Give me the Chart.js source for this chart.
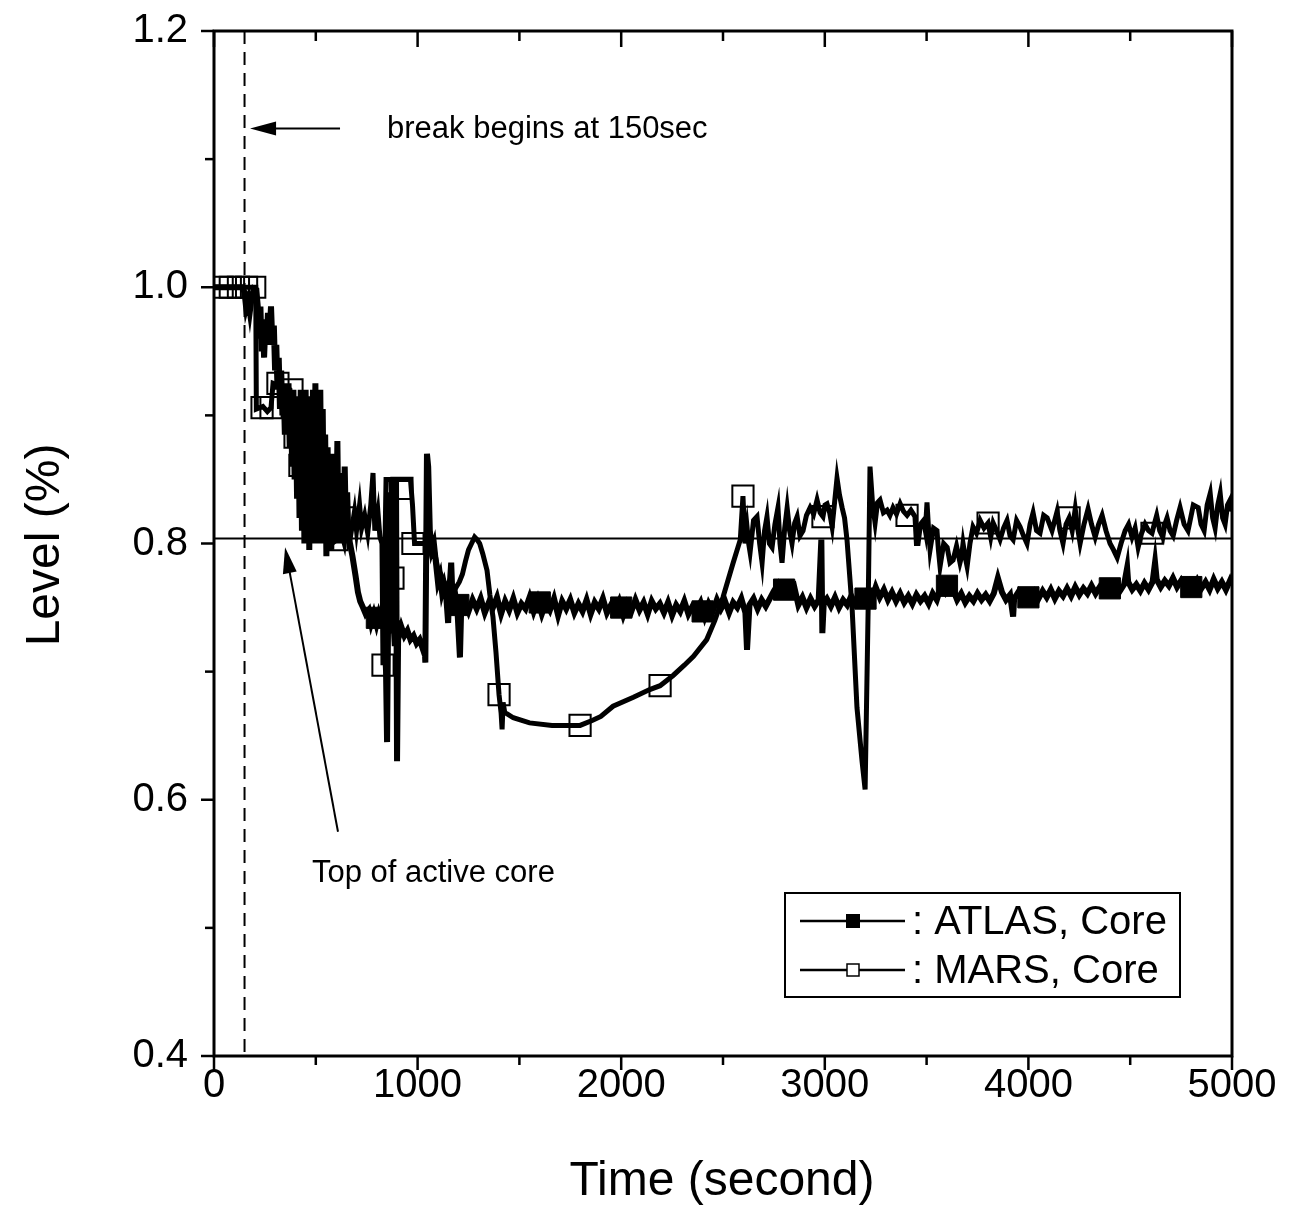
<!DOCTYPE html>
<html>
<head>
<meta charset="utf-8">
<script src="https://cdn.jsdelivr.net/npm/chart.js@4.4.1/dist/chart.umd.min.js"></script>
<style>
  html, body { margin: 0; padding: 0; background: #fff; }
  #wrap { width: 1306px; height: 1209px; }
</style>
</head>
<body>
<div id="wrap"><canvas id="c"></canvas></div>
<script>
// --- data (time in s, level fraction) ---
const xTicks = [0, 1000, 2000, 3000, 4000, 5000];
const yTicks = [0.4, 0.6, 0.8, 1.0, 1.2];

const atlasTime = [
  0, 140, 150, 158, 168, 176, 186, 196, 208, 215,
  222, 228, 234, 240, 246, 252, 258, 265, 272, 280, 287, 294, 300, 306, 312, 318, 324, 330, 336, 342,
  348, 354, 360, 366, 372, 378, 384, 390, 396, 402, 408, 414, 420, 426, 432, 438, 444, 450, 456, 462,
  468, 474, 480, 486, 492, 498, 504, 510, 516, 522, 528, 534, 540, 546, 552, 558, 564, 570, 576, 582,
  588, 594, 600, 606, 612, 618, 624, 630, 636, 642, 648, 654, 660, 668, 680, 695, 707, 718, 732, 745,
  760, 772, 785, 798, 810, 820, 835, 845, 850, 855, 860, 866, 872, 880, 888, 894, 899, 905, 912, 920,
  935, 950, 965, 980, 995, 1010, 1025, 1034, 1038, 1046, 1052, 1060, 1070, 1080, 1090, 1100, 1110, 1120, 1130, 1140,
  1150, 1155, 1165, 1172, 1185, 1195, 1208, 1215,
  1230, 1250, 1270, 1290, 1310, 1330, 1350, 1370, 1390, 1410,
  1430, 1450, 1470, 1490, 1510, 1530, 1550, 1570, 1590, 1610,
  1630, 1650, 1670, 1690, 1710, 1730, 1750, 1770, 1790, 1810,
  1830, 1850, 1870, 1890, 1910, 1930, 1950, 1970, 1990, 2010,
  2030, 2050, 2070, 2090, 2110, 2130, 2150, 2170, 2190, 2210,
  2230, 2250, 2270, 2290, 2310, 2330, 2350, 2370, 2390, 2410,
  2430, 2450, 2470, 2490, 2510, 2530, 2550, 2570, 2590, 2610, 2618,
  2630, 2650, 2670, 2690, 2710, 2730, 2750, 2770, 2790, 2810,
  2830, 2850, 2870, 2890, 2910, 2930, 2950, 2970, 2983, 2988, 2995, 3010,
  3030, 3050, 3070, 3090, 3110, 3130, 3150, 3170, 3190, 3210,
  3230, 3250, 3270, 3290, 3310, 3330, 3350, 3370, 3390, 3410,
  3430, 3450, 3470, 3490, 3510, 3530, 3550, 3570, 3590, 3610,
  3630, 3650, 3670, 3690, 3710, 3730, 3750, 3770, 3790, 3810,
  3830, 3850, 3870, 3890, 3910, 3925, 3930, 3950, 3970, 3990, 4010,
  4030, 4050, 4070, 4090, 4110, 4130, 4150, 4170, 4190, 4210,
  4230, 4250, 4270, 4290, 4310, 4330, 4350, 4370, 4390, 4410,
  4430, 4450, 4470, 4485, 4490, 4510, 4530, 4550, 4570, 4590, 4610, 4622,
  4630, 4650, 4670, 4690, 4710, 4730, 4750, 4770, 4790, 4810,
  4830, 4850, 4870, 4890, 4910, 4930, 4950, 4970, 4990, 5000
];
const atlasLevel = [
  1.0, 1.0, 0.996, 0.984, 0.99, 0.981, 0.993, 0.999, 0.998, 0.985,
  0.96, 0.985, 0.95, 0.975, 0.945, 0.97, 0.955, 0.98, 0.96, 0.985, 0.955, 0.97, 0.935, 0.955, 0.92, 0.945, 0.905, 0.935, 0.90, 0.925,
  0.885, 0.915, 0.90, 0.925, 0.875, 0.91, 0.86, 0.92, 0.85, 0.905, 0.835, 0.915, 0.82, 0.92, 0.81, 0.905, 0.80, 0.92, 0.80, 0.915,
  0.795, 0.905, 0.80, 0.92, 0.805, 0.925, 0.80, 0.91, 0.80, 0.92, 0.81, 0.905, 0.80, 0.885, 0.79, 0.875, 0.80, 0.865, 0.795, 0.87,
  0.80, 0.86, 0.805, 0.88, 0.80, 0.855, 0.81, 0.85, 0.80, 0.86, 0.81, 0.84, 0.805, 0.80, 0.79, 0.775, 0.762, 0.755, 0.75, 0.745,
  0.748, 0.738, 0.745, 0.737, 0.745, 0.74, 0.74, 0.70, 0.645, 0.74, 0.84, 0.76, 0.73, 0.745, 0.72, 0.85, 0.63, 0.74, 0.73, 0.735,
  0.728, 0.732, 0.725, 0.728, 0.722, 0.725, 0.718, 0.722, 0.707, 0.87, 0.86, 0.81, 0.795, 0.80, 0.785, 0.77, 0.775, 0.762, 0.768, 0.76,
  0.738, 0.76, 0.785, 0.755, 0.76, 0.75, 0.711, 0.755,
  0.755, 0.747, 0.756, 0.749, 0.757, 0.746, 0.754, 0.75, 0.758, 0.745,
  0.755, 0.748, 0.757, 0.746, 0.753, 0.749, 0.758, 0.747, 0.756, 0.745,
  0.754, 0.748, 0.757, 0.744, 0.755, 0.749, 0.756, 0.746, 0.753, 0.747,
  0.756, 0.745, 0.754, 0.749, 0.757, 0.746, 0.752, 0.748, 0.755, 0.744,
  0.753, 0.747, 0.756, 0.748, 0.754, 0.745, 0.755, 0.749, 0.753, 0.746,
  0.754, 0.744, 0.752, 0.747, 0.755, 0.745, 0.751, 0.748, 0.754, 0.743,
  0.753, 0.747, 0.756, 0.749, 0.755, 0.746, 0.754, 0.75, 0.757, 0.746, 0.717,
  0.752, 0.757, 0.749, 0.756, 0.751, 0.757, 0.763, 0.768, 0.761, 0.767,
  0.762, 0.766, 0.752, 0.758, 0.75, 0.757, 0.751, 0.756, 0.803, 0.73, 0.754, 0.757,
  0.751, 0.758, 0.75, 0.756, 0.752, 0.759, 0.753, 0.757, 0.754, 0.76,
  0.756, 0.766, 0.758, 0.764, 0.756, 0.762, 0.755, 0.761, 0.754, 0.759,
  0.753, 0.76, 0.755, 0.759, 0.753, 0.761, 0.756, 0.766, 0.762, 0.769,
  0.764, 0.756, 0.761, 0.754, 0.759, 0.755, 0.761, 0.756, 0.76, 0.755,
  0.761, 0.773, 0.762, 0.756, 0.76, 0.743, 0.757, 0.762, 0.755, 0.761, 0.756,
  0.762, 0.757, 0.763, 0.758, 0.764, 0.757, 0.763, 0.759, 0.765, 0.759,
  0.766, 0.76, 0.765, 0.761, 0.767, 0.761, 0.766, 0.762, 0.768, 0.762,
  0.767, 0.763, 0.768, 0.781, 0.77, 0.764, 0.768, 0.763, 0.769, 0.764, 0.77, 0.785,
  0.772, 0.766, 0.771, 0.767, 0.773, 0.766, 0.771, 0.765, 0.77, 0.764,
  0.771, 0.765, 0.77, 0.764, 0.772, 0.765, 0.77, 0.764, 0.771, 0.767
];

const marsTime = [
  0, 205, 208, 240, 262, 280, 290, 340, 373, 385, 398, 410, 422, 450, 480, 511, 525, 540, 560, 580,
  604, 620, 640, 655, 670, 690, 700, 715, 725, 740, 755, 770, 781, 790, 805, 815, 825, 830, 845, 870,
  879, 890, 923, 965, 975, 985, 1040, 1055, 1070, 1085, 1100, 1115, 1130, 1145, 1160, 1175, 1190, 1205, 1220, 1235,
  1250, 1265, 1280, 1292, 1305, 1320, 1341, 1355, 1370, 1385, 1400, 1410, 1415, 1420, 1428, 1440, 1470, 1550, 1660, 1798,
  1860, 1900, 1960, 2060, 2140, 2191, 2255, 2310, 2355, 2420, 2460, 2500, 2550, 2585,
  2598, 2608, 2618, 2626, 2633, 2650, 2667, 2680, 2692, 2704, 2716, 2728, 2741, 2755, 2770, 2780, 2790, 2803, 2815, 2827,
  2839, 2852, 2864, 2878, 2893, 2910, 2928, 2945, 2962, 2977, 2991, 3001, 3011, 3024, 3036, 3048, 3060, 3072, 3085, 3097,
  3109, 3134, 3158, 3183, 3198, 3213, 3222, 3235, 3247, 3259, 3271, 3288, 3306, 3320, 3335, 3352, 3370, 3387, 3404, 3423,
  3443, 3450, 3458, 3470, 3485, 3494, 3502, 3510, 3517, 3534, 3551, 3558, 3566, 3584, 3601, 3615, 3630, 3647, 3664, 3672,
  3679, 3689, 3699, 3713, 3728, 3745, 3763, 3782, 3802, 3815, 3827, 3844, 3861, 3878, 3895, 3910, 3925, 3942, 3959, 3976,
  3993, 4008, 4023, 4040, 4057, 4075, 4092, 4116, 4141, 4155, 4170, 4185, 4200, 4215, 4230, 4242, 4254, 4273, 4293, 4310,
  4328, 4345, 4362, 4381, 4401, 4418, 4436, 4455, 4475, 4492, 4509, 4524, 4539, 4556, 4573, 4590, 4607, 4618, 4630, 4645,
  4660, 4670, 4681, 4696, 4711, 4728, 4745, 4765, 4784, 4810, 4834, 4848, 4863, 4878, 4893, 4905, 4917, 4930, 4942, 4954,
  4966, 4978, 4991, 5000
];
const marsLevel = [
  1.0, 1.0, 0.905, 0.907, 0.903, 0.906, 0.925, 0.922, 0.92, 0.905, 0.883, 0.87, 0.861, 0.858, 0.855, 0.853, 0.845, 0.83, 0.812, 0.80,
  0.803, 0.812, 0.80, 0.82, 0.805, 0.825, 0.81, 0.83, 0.812, 0.822, 0.808, 0.83, 0.855, 0.81, 0.825, 0.805, 0.80, 0.705, 0.85, 0.85,
  0.773, 0.85, 0.85, 0.85, 0.83, 0.80, 0.80, 0.80, 0.79, 0.792, 0.78, 0.776, 0.77, 0.765, 0.772, 0.762, 0.766, 0.77, 0.776, 0.786,
  0.795, 0.80, 0.805, 0.803, 0.80, 0.792, 0.779, 0.76, 0.743, 0.715, 0.682, 0.668, 0.655, 0.676, 0.668, 0.667, 0.664, 0.66, 0.658, 0.658,
  0.662, 0.665, 0.673, 0.68, 0.686, 0.689, 0.697, 0.705, 0.712, 0.725, 0.74, 0.758, 0.785, 0.803,
  0.837, 0.80, 0.813, 0.80, 0.793, 0.818, 0.821, 0.80, 0.785, 0.81, 0.821, 0.80, 0.797, 0.815, 0.828, 0.80, 0.785, 0.812, 0.828, 0.81,
  0.80, 0.816, 0.821, 0.806, 0.81, 0.822, 0.828, 0.823, 0.834, 0.824, 0.821, 0.83, 0.831, 0.824, 0.813, 0.832, 0.851, 0.838, 0.828, 0.82,
  0.803, 0.75, 0.672, 0.63, 0.608, 0.75, 0.86, 0.83, 0.816, 0.832, 0.834, 0.824, 0.826, 0.822, 0.828, 0.823, 0.831, 0.825, 0.822, 0.826,
  0.821, 0.80, 0.80, 0.815, 0.818, 0.81, 0.832, 0.81, 0.795, 0.812, 0.81, 0.795, 0.782, 0.80, 0.797, 0.785, 0.787, 0.798, 0.785, 0.79,
  0.80, 0.79, 0.782, 0.80, 0.813, 0.808, 0.818, 0.812, 0.816, 0.805, 0.816, 0.81, 0.803, 0.812, 0.818, 0.806, 0.803, 0.818, 0.813, 0.806,
  0.80, 0.815, 0.824, 0.81, 0.808, 0.822, 0.82, 0.81, 0.825, 0.81, 0.80, 0.815, 0.82, 0.81, 0.827, 0.812, 0.80, 0.815, 0.827, 0.815,
  0.805, 0.815, 0.822, 0.81, 0.80, 0.795, 0.789, 0.80, 0.81, 0.815, 0.805, 0.812, 0.797, 0.808, 0.815, 0.81, 0.808, 0.815, 0.822, 0.81,
  0.805, 0.815, 0.82, 0.81, 0.806, 0.818, 0.828, 0.815, 0.81, 0.83, 0.828, 0.815, 0.81, 0.83, 0.839, 0.82, 0.812, 0.83, 0.839, 0.82,
  0.815, 0.83, 0.834, 0.825
];

// symbol positions (every few hundred seconds, as plotted)
const atlasMarkTime  = [800, 1200, 1600, 2000, 2400, 2800, 3200, 3600, 4000, 4400, 4800];
const atlasMarkLevel = [0.742, 0.752, 0.754, 0.75, 0.747, 0.764, 0.757, 0.767, 0.758, 0.765, 0.766];
const marsMarkTime  = [40, 80, 120, 160, 200, 236, 280, 314, 383, 398, 422, 511, 604, 643, 830, 879, 923, 977,
                       1400, 1798, 2191, 2598, 2991, 3404, 3802, 4200, 4607];
const marsMarkLevel = [1.0, 1.0, 1.0, 1.0, 1.0, 0.906, 0.906, 0.925, 0.92, 0.883, 0.861, 0.853, 0.803, 0.82, 0.705, 0.773, 0.843, 0.80,
                       0.682, 0.658, 0.689, 0.837, 0.821, 0.822, 0.816, 0.82, 0.808];

const breakTime = 150;
const coreTopLevel = 0.804;

const FONT = '"Liberation Sans", Arial, Helvetica, sans-serif';
const toPts = (ts, vs) => ts.map((t, i) => ({ x: t, y: vs[i] }));

function arrow(ctx, x1, y1, x2, y2) {
  const a = Math.atan2(y2 - y1, x2 - x1);
  const len = 26, hw = 7;
  ctx.beginPath();
  ctx.moveTo(x1, y1);
  ctx.lineTo(x2 - Math.cos(a) * len * 0.6, y2 - Math.sin(a) * len * 0.6);
  ctx.stroke();
  ctx.beginPath();
  ctx.moveTo(x2, y2);
  ctx.lineTo(x2 - Math.cos(a) * len - Math.sin(a) * hw, y2 - Math.sin(a) * len + Math.cos(a) * hw);
  ctx.lineTo(x2 - Math.cos(a) * len + Math.sin(a) * hw, y2 - Math.sin(a) * len - Math.cos(a) * hw);
  ctx.closePath();
  ctx.fill();
}

const decor = {
  id: 'decor',
  beforeDatasetsDraw(chart) {
    const { ctx, chartArea: ca, scales: { x, y } } = chart;
    ctx.save();
    ctx.strokeStyle = '#000';
    // break line
    ctx.lineWidth = 2;
    ctx.setLineDash([13, 8]);
    ctx.beginPath();
    ctx.moveTo(x.getPixelForValue(breakTime), ca.top);
    ctx.lineTo(x.getPixelForValue(breakTime), ca.bottom);
    ctx.stroke();
    ctx.setLineDash([]);
    // top of active core
    ctx.lineWidth = 2;
    ctx.beginPath();
    ctx.moveTo(ca.left, y.getPixelForValue(coreTopLevel));
    ctx.lineTo(ca.right, y.getPixelForValue(coreTopLevel));
    ctx.stroke();
    ctx.restore();
  },
  afterDraw(chart) {
    const { ctx, chartArea: ca, scales: { x, y } } = chart;
    ctx.save();
    ctx.strokeStyle = '#000';
    ctx.fillStyle = '#000';

    // frame
    ctx.lineWidth = 3;
    ctx.strokeRect(ca.left, ca.top, ca.right - ca.left, ca.bottom - ca.top);

    // x ticks (bottom out, top in)
    ctx.lineWidth = 2.5;
    for (let t = 0; t <= 5000; t += 500) {
      const px = x.getPixelForValue(t);
      const major = t % 1000 === 0;
      ctx.beginPath();
      ctx.moveTo(px, ca.bottom);
      ctx.lineTo(px, ca.bottom + (major ? 14 : 9));
      ctx.moveTo(px, ca.top);
      ctx.lineTo(px, ca.top + (major ? 16 : 10));
      ctx.stroke();
    }
    // y ticks (left out)
    for (let k = 0; k <= 8; k++) {
      const v = 0.4 + k * 0.1;
      const py = y.getPixelForValue(v);
      const major = k % 2 === 0;
      ctx.beginPath();
      ctx.moveTo(ca.left, py);
      ctx.lineTo(ca.left - (major ? 13 : 9), py);
      ctx.stroke();
    }

    // annotations
    ctx.lineWidth = 2;
    arrow(ctx, x.getPixelForValue(619), y.getPixelForValue(1.124), x.getPixelForValue(177), y.getPixelForValue(1.124));
    arrow(ctx, x.getPixelForValue(609), y.getPixelForValue(0.575), x.getPixelForValue(349), y.getPixelForValue(0.797));
    ctx.font = '31px ' + FONT;
    ctx.textBaseline = 'alphabetic';
    ctx.textAlign = 'left';
    ctx.fillText('break begins at 150sec', x.getPixelForValue(850), y.getPixelForValue(1.124) + 10);
    ctx.fillText('Top of active core', x.getPixelForValue(481), y.getPixelForValue(0.536));

    // legend
    const lx = 785, ly = 893, lw = 395, lh = 104;
    ctx.lineWidth = 2;
    ctx.strokeRect(lx, ly, lw, lh);
    const rows = [
      { y: ly + 28, label: ': ATLAS, Core', fill: true },
      { y: ly + 77, label: ': MARS, Core', fill: false }
    ];
    ctx.font = '40px ' + FONT;
    ctx.textBaseline = 'middle';
    rows.forEach(r => {
      ctx.lineWidth = 2.5;
      ctx.beginPath();
      ctx.moveTo(800, r.y);
      ctx.lineTo(905, r.y);
      ctx.stroke();
      if (r.fill) {
        ctx.fillRect(846, r.y - 7, 14, 14);
      } else {
        ctx.fillStyle = '#fff';
        ctx.fillRect(847, r.y - 6, 12, 12);
        ctx.fillStyle = '#000';
        ctx.lineWidth = 1.5;
        ctx.strokeRect(847, r.y - 6, 12, 12);
      }
      ctx.fillText(r.label, 912, r.y + 2);
    });

    // axis titles
    ctx.font = '48px ' + FONT;
    ctx.textAlign = 'center';
    ctx.textBaseline = 'middle';
    ctx.fillText('Time (second)', 722, 1182);
    ctx.translate(46, 545);
    ctx.rotate(-Math.PI / 2);
    ctx.fillText('Level (%)', 0, 0);
    ctx.restore();
  }
};

new Chart(document.getElementById('c'), {
  type: 'scatter',
  data: {
    datasets: [
      {
        label: 'MARS, Core',
        data: toPts(marsTime, marsLevel),
        showLine: true, borderColor: '#000', borderWidth: 5,
        pointRadius: 0, pointHoverRadius: 0, tension: 0
      },
      {
        label: 'ATLAS, Core',
        data: toPts(atlasTime, atlasLevel),
        showLine: true, borderColor: '#000', borderWidth: 6,
        pointRadius: 0, pointHoverRadius: 0, tension: 0
      },
      {
        label: 'ATLAS symbols',
        data: toPts(atlasMarkTime, atlasMarkLevel),
        showLine: false, pointStyle: 'rect', pointRadius: 15,
        backgroundColor: '#000', borderColor: '#000', borderWidth: 1
      },
      {
        label: 'MARS symbols',
        data: toPts(marsMarkTime, marsMarkLevel),
        showLine: false, pointStyle: 'rect', pointRadius: 15,
        backgroundColor: 'rgba(0,0,0,0)', borderColor: '#000', borderWidth: 2
      }
    ]
  },
  options: {
    responsive: true,
    maintainAspectRatio: false,
    animation: false,
    layout: { padding: { top: 31, right: 74, left: 0, bottom: 0 } },
    plugins: { legend: { display: false }, tooltip: { enabled: false } },
    scales: {
      x: {
        type: 'linear', min: 0, max: 5000,
        afterBuildTicks: s => { s.ticks = xTicks.map(v => ({ value: v })); },
        afterFit: s => { s.height = 153; s.paddingLeft = 0; s.paddingRight = 0; },
        ticks: { color: '#000', font: { family: FONT, size: 40 }, padding: -2, maxRotation: 0, autoSkip: false,
                 callback: v => String(v) },
        grid: { display: false },
        border: { display: false }
      },
      y: {
        type: 'linear', min: 0.4, max: 1.2,
        afterBuildTicks: s => { s.ticks = yTicks.map(v => ({ value: v })); },
        afterFit: s => { s.width = 214; s.paddingTop = 0; s.paddingBottom = 0; },
        ticks: { color: '#000', font: { family: FONT, size: 40 }, padding: 18, callback: v => v.toFixed(1) },
        grid: { display: false },
        border: { display: false }
      }
    }
  },
  plugins: [decor]
});
</script>
</body>
</html>
